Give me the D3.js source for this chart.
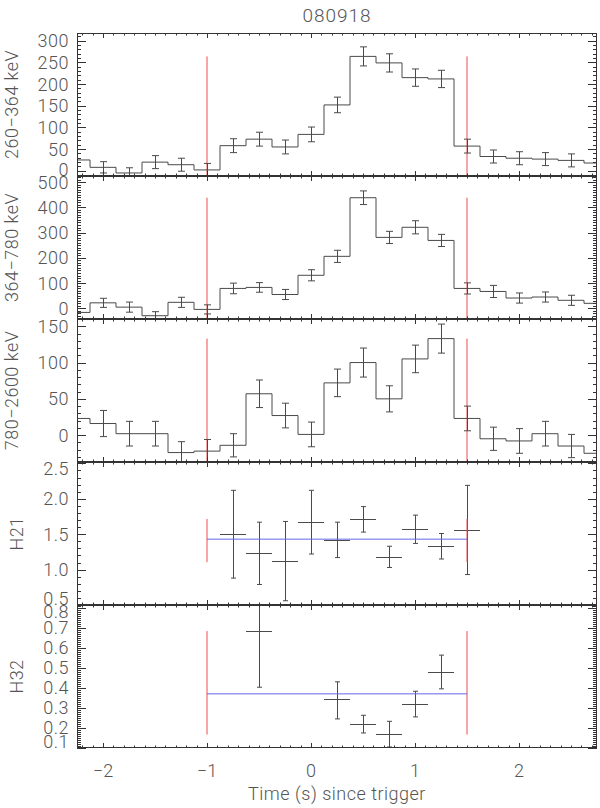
<!DOCTYPE html>
<html>
<head>
<meta charset="utf-8">
<script src="https://cdn.jsdelivr.net/npm/d3@7"></script>
<style>
  body { margin: 0; background: #fff; }
  svg text { font-family: Roboto, "DejaVu Sans", sans-serif; font-weight: 300; fill: #555; }
</style>
</head>
<body>
<div id="vis"></div>
<script>
// ---- data ----
var burstName = '080918';

// light-curve bins (bin centres, 0.25 s wide)
var binCenters = [-2.25, -2.0, -1.75, -1.5, -1.25, -1.0, -0.75, -0.5, -0.25, 0,
  0.25, 0.5, 0.75, 1.0, 1.25, 1.5, 1.75, 2.0, 2.25, 2.5, 2.75];

var counts260 = [25, 8, -5, 20, 14, 2, 58, 73, 55, 84, 152, 264, 249, 215, 212, 57, 33, 29, 27, 24, 18];
var errs260   = [null, 13, 12, 15, 15, 15, 16, 16, 16, 17, 18, 22, 21, 20, 20, 16, 15, 15, 15, 15, null];

var counts364 = [-16, 22, 5, -29, 24, -4, 79, 83, 55, 131, 206, 438, 281, 321, 269, 79, 67, 41, 45, 32, 20];
var errs364   = [null, 18, 20, 16, 20, 18, 21, 19, 20, 22, 24, 27, 24, 26, 24, 22, 24, 20, 20, 20, null];

var counts780 = [23, 16, 2, 2, -24, -22, -14, 57, 27, 1, 72, 100, 50, 105, 133, 23, -5, -8, 2, -15, -25];
var errs780   = [null, 18, 17, 17, 15, 16, 16, 19, 17, 17, 19, 20, 18, 19, 20, 17, 16, 17, 17, 16, null];

// hardness ratios
var h21Times = [-0.75, -0.5, -0.25, 0, 0.25, 0.5, 0.75, 1.0, 1.25, 1.5];
var h21Vals  = [1.50, 1.23, 1.12, 1.67, 1.42, 1.71, 1.18, 1.57, 1.33, 1.56];
var h21Errs  = [0.62, 0.44, 0.56, 0.45, 0.25, 0.18, 0.15, 0.20, 0.18, 0.63];

var h32Times = [-0.5, 0.25, 0.5, 0.75, 1.0, 1.25];
var h32Vals  = [0.683, 0.345, 0.22, 0.17, 0.32, 0.48];
var h32Lo    = [0.403, 0.245, 0.175, 0.105, 0.255, 0.395];
var h32Hi    = [0.963, 0.43, 0.263, 0.233, 0.383, 0.563];

var binHalfWidth = 0.125;

// burst interval and mean hardness over it
var intervalTimes = [-1.0, 1.5];
var h21Mean = 1.43, h21Band = [1.105, 1.715];
var h32Mean = 0.37, h32Band = [0.167, 0.683];

var xTickLabels = [-2, -1, 0, 1, 2];

// ---- layout ----
var width = 600, height = 808;
var left = 77, right = 597, top0 = 33, panelH = 143;
var axisColour = '#333', lineColour = '#4a4a4a', markerRed = '#ee4c4c', meanBlue = '#6666e6';

var panels = [
  { title: '260\u2212364 keV', domain: [-12, 318], major: 50, minor: 10, fmt: d3.format('d'), titleX: 12 },
  { title: '364\u2212780 keV', domain: [-42, 524], major: 100, minor: 10, fmt: d3.format('d'), titleX: 12 },
  { title: '780\u22122600 keV', domain: [-37, 160], major: 50, minor: 10, fmt: d3.format('d'), titleX: 12 },
  { title: 'H21', domain: [0.5, 2.52], major: 0.5, minor: 0.1, fmt: d3.format('.1f'), titleX: 17 },
  { title: 'H32', domain: [0.1, 0.813], major: 0.1, minor: 0.01, fmt: d3.format('.1f'), titleX: 17 }
];

var x = d3.scaleLinear().domain([-2.25, 2.75]).range([left, right]);

function stepValues(domain, step) {
  var k0 = Math.ceil(domain[0] / step - 1e-6), k1 = Math.floor(domain[1] / step + 1e-6);
  return d3.range(k0, k1 + 1).map(function (k) { return +(k * step).toFixed(6); });
}

var svg = d3.select('#vis').append('svg')
  .attr('width', width)
  .attr('height', height);

svg.append('text')
  .attr('x', (left + right) / 2)
  .attr('y', 15)
  .attr('dy', '0.35em')
  .attr('text-anchor', 'middle')
  .style('font-size', '19px')
  .style('letter-spacing', '1px')
  .text(burstName);

panels.forEach(function (p, i) {
  var top = top0 + i * panelH, bottom = top + panelH;
  p.y = d3.scaleLinear().domain(p.domain).range([bottom, top]);
  p.top = top; p.bottom = bottom;

  svg.append('clipPath').attr('id', 'clip' + i)
    .append('rect').attr('x', left).attr('y', top).attr('width', right - left).attr('height', panelH);

  p.g = svg.append('g');
  p.plot = p.g.append('g').attr('clip-path', 'url(#clip' + i + ')');

  // y ticks, both sides, pointing inwards
  var minors = stepValues(p.domain, p.minor);
  var majors = stepValues(p.domain, p.major);
  var ticks = p.g.append('g').attr('stroke', axisColour).attr('stroke-width', 1);
  minors.forEach(function (v) {
    var yy = Math.round(p.y(v)) + 0.5;
    ticks.append('line').attr('x1', left).attr('x2', left + 4).attr('y1', yy).attr('y2', yy);
    ticks.append('line').attr('x1', right - 4).attr('x2', right).attr('y1', yy).attr('y2', yy);
  });
  majors.forEach(function (v) {
    var yy = Math.round(p.y(v)) + 0.5;
    ticks.append('line').attr('x1', left).attr('x2', left + 9).attr('y1', yy).attr('y2', yy);
    ticks.append('line').attr('x1', right - 9).attr('x2', right).attr('y1', yy).attr('y2', yy);
  });

  // x ticks on top and bottom of each panel
  stepValues(x.domain(), 0.1).forEach(function (v) {
    var isMajor = Math.abs(v - Math.round(v)) < 1e-6;
    var len = isMajor ? 5 : 2.5;
    var xx = Math.round(x(v)) + 0.5;
    ticks.append('line').attr('x1', xx).attr('x2', xx).attr('y1', bottom).attr('y2', bottom - len);
    ticks.append('line').attr('x1', xx).attr('x2', xx).attr('y1', top).attr('y2', top + len);
  });

  // tick labels, kept inside the panel at its ends
  p.g.append('g').selectAll('text')
    .data(majors)
    .enter().append('text')
    .attr('x', left - 8)
    .attr('y', function (d) { return Math.max(top + 7, Math.min(bottom - 6, p.y(d))); })
    .attr('dy', '0.36em')
    .attr('text-anchor', 'end')
    .style('font-size', '18px')
    .style('letter-spacing', '0.5px')
    .text(function (d) { return p.fmt(d); });

  p.g.append('text')
    .attr('transform', 'translate(' + p.titleX + ',' + (top + panelH / 2) + ') rotate(-90)')
    .attr('dy', '0.35em')
    .attr('text-anchor', 'middle')
    .style('font-size', '18px')
    .style('letter-spacing', '0.5px')
    .text(p.title);
});

// ---- light curves ----
var curves = [[counts260, errs260], [counts364, errs364], [counts780, errs780]];

curves.forEach(function (c, i) {
  var p = panels[i];
  var vals = c[0], errs = c[1];
  var pts = binCenters.map(function (t, j) { return [t, vals[j], errs[j]]; });

  // burst interval markers, under the data
  var peak = d3.max(vals);
  intervalTimes.forEach(function (t) {
    p.plot.append('line')
      .attr('x1', x(t)).attr('x2', x(t))
      .attr('y1', p.y(p.domain[0])).attr('y2', p.y(peak))
      .style('stroke', markerRed).style('stroke-width', 1);
  });

  var line = d3.line()
    .curve(d3.curveStep)
    .x(function (d) { return x(d[0]); })
    .y(function (d) { return p.y(d[1]); });

  p.plot.append('path')
    .datum(pts)
    .attr('fill', 'none')
    .attr('stroke', lineColour)
    .attr('stroke-width', 1)
    .attr('d', line);

  var bars = p.plot.append('g').attr('stroke', lineColour).attr('stroke-width', 1);
  pts.filter(function (d) { return d[2] != null; }).forEach(function (d) {
    var xx = Math.round(x(d[0])) + 0.5;
    var y1 = p.y(d[1] + d[2]), y2 = p.y(d[1] - d[2]);
    bars.append('line').attr('x1', xx).attr('x2', xx).attr('y1', y1).attr('y2', y2);
    bars.append('line').attr('x1', xx - 3.5).attr('x2', xx + 3.5).attr('y1', y1).attr('y2', y1);
    bars.append('line').attr('x1', xx - 3.5).attr('x2', xx + 3.5).attr('y1', y2).attr('y2', y2);
  });
});

// ---- hardness ratios ----
function drawRatio(p, times, vals, lo, hi, mean, band) {
  var bars = p.plot.append('g').attr('stroke', lineColour).attr('stroke-width', 1);
  times.forEach(function (t, j) {
    var xx = Math.round(x(t)) + 0.5;
    var yy = Math.round(p.y(vals[j])) + 0.5;
    var y1 = p.y(hi[j]), y2 = p.y(lo[j]);
    bars.append('line').attr('x1', x(t - binHalfWidth)).attr('x2', x(t + binHalfWidth)).attr('y1', yy).attr('y2', yy);
    bars.append('line').attr('x1', xx).attr('x2', xx).attr('y1', y1).attr('y2', y2);
    bars.append('line').attr('x1', xx - 2.5).attr('x2', xx + 2.5).attr('y1', y1).attr('y2', y1);
    bars.append('line').attr('x1', xx - 2.5).attr('x2', xx + 2.5).attr('y1', y2).attr('y2', y2);
  });

  intervalTimes.forEach(function (t) {
    p.plot.append('line')
      .attr('x1', x(t)).attr('x2', x(t))
      .attr('y1', p.y(band[0])).attr('y2', p.y(band[1]))
      .style('stroke', markerRed).style('stroke-width', 1);
  });

  p.plot.append('line')
    .attr('x1', x(intervalTimes[0])).attr('x2', x(intervalTimes[1]))
    .attr('y1', p.y(mean)).attr('y2', p.y(mean))
    .style('stroke', meanBlue).style('stroke-width', 1);
}

drawRatio(panels[3], h21Times, h21Vals,
  h21Vals.map(function (v, j) { return v - h21Errs[j]; }),
  h21Vals.map(function (v, j) { return v + h21Errs[j]; }),
  h21Mean, h21Band);
drawRatio(panels[4], h32Times, h32Vals, h32Lo, h32Hi, h32Mean, h32Band);

// ---- frames ----
panels.forEach(function (p) {
  svg.append('rect')
    .attr('x', left + 0.5).attr('y', p.top + 0.5)
    .attr('width', right - left - 1).attr('height', panelH - 1)
    .attr('fill', 'none')
    .attr('stroke', axisColour)
    .attr('stroke-width', 1);
});

// ---- x axis labels ----
var lastBottom = panels[4].bottom;
svg.append('g').selectAll('text')
  .data(xTickLabels)
  .enter().append('text')
  .attr('x', function (d) { return x(d); })
  .attr('y', lastBottom + 23)
  .attr('dy', '0.35em')
  .attr('text-anchor', 'middle')
  .style('font-size', '18px')
  .text(function (d) { return d < 0 ? '\u2212' + Math.abs(d) : d; });

svg.append('text')
  .attr('x', (left + right) / 2)
  .attr('y', lastBottom + 46)
  .attr('dy', '0.35em')
  .attr('text-anchor', 'middle')
  .style('font-size', '18px')
  .style('letter-spacing', '0.5px')
  .text('Time (s) since trigger');
</script>
</body>
</html>
